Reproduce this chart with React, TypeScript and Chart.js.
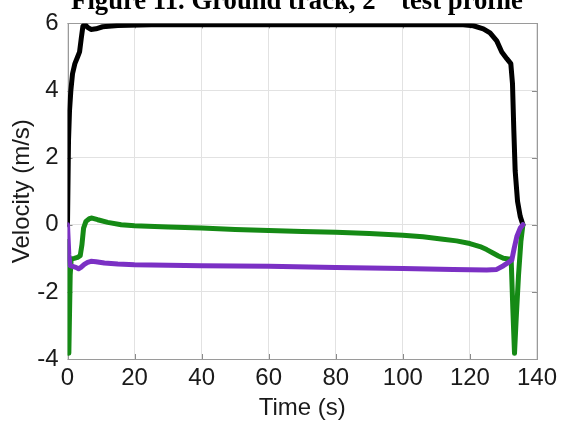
import React, { useEffect, useRef } from "react";
import { Chart, registerables } from "chart.js";

Chart.register(...registerables);

const titleMain = "Figure 11. Ground track, 2";
const titleSup = "nd";
const titleRest = " test profile";
const xLabel = "Time (s)";
const yLabel = "Velocity (m/s)";

const xTickStep = 20;
const yTickStep = 2;
const xRange = [0, 140];
const yRange = [-4, 6];

// Black series (speed)
const blackT = [0, 0.3, 0.6, 1.0, 1.5, 2.2, 3.0, 3.6, 4.1, 4.6, 5.2, 6.0, 7.0, 8.5, 10.5, 15, 25, 40, 60, 80, 100, 118, 121, 124, 126, 128, 129.5, 131, 132.2, 132.7, 133.1, 133.5, 134.2, 135, 135.8];
const blackV = [0, 2.5, 3.4, 4.0, 4.5, 4.8, 5.0, 5.15, 5.55, 5.92, 5.97, 5.88, 5.82, 5.84, 5.9, 5.94, 5.96, 5.96, 5.96, 5.96, 5.96, 5.96, 5.93, 5.84, 5.72, 5.48, 5.15, 4.95, 4.8, 4.2, 2.8, 1.6, 0.7, 0.25, 0];

// Green series
const greenT = [0, 0.4, 0.8, 1.1, 2, 3, 3.8, 4.3, 4.8, 5.5, 6.5, 7.3, 9, 12, 16, 20, 30, 40, 50, 60, 70, 80, 90, 100, 106, 112, 116, 120, 123, 125, 127, 128.5, 130, 131.5, 132.3, 132.8, 133.3, 133.8, 134.5, 135.2, 135.8];
const greenV = [-0.5, -3.83, -1.5, -1.02, -1.0, -0.97, -0.92, -0.6, -0.1, 0.1, 0.18, 0.2, 0.15, 0.07, 0.0, -0.03, -0.07, -0.1, -0.14, -0.17, -0.2, -0.22, -0.26, -0.31, -0.36, -0.43, -0.48, -0.56, -0.65, -0.74, -0.85, -0.93, -1.0, -1.02, -1.02, -2.5, -3.83, -2.8, -1.5, -0.5, 0];

// Purple series
const purpleT = [0, 0.4, 0.8, 1.5, 2.5, 3.3, 4.0, 5, 6, 7, 8.5, 11, 15, 20, 40, 60, 80, 100, 115, 125, 128, 130, 131.5, 132.5, 133.2, 134, 135, 135.8];
const purpleV = [0, -0.9, -1.22, -1.24, -1.27, -1.31, -1.27, -1.18, -1.12, -1.09, -1.1, -1.14, -1.17, -1.19, -1.22, -1.24, -1.27, -1.3, -1.33, -1.35, -1.33, -1.22, -1.12, -1.05, -0.7, -0.35, -0.1, 0];

const toPoints = (t: number[], v: number[]) => t.map((x, i) => ({ x, y: v[i] }));

const FONT = "'Liberation Sans', Arial, Helvetica, sans-serif";

const framePlugin = {
  id: "matlabFrame",
  beforeDatasetsDraw(chart: any) {
    const { ctx, chartArea: a, scales } = chart;
    ctx.save();
    ctx.strokeStyle = "#8a8a8a";
    ctx.lineWidth = 1;
    ctx.beginPath();
    const xs = scales.x;
    const ys = scales.y;
    const len = 5;
    xs.ticks.forEach((t: any) => {
      const px = Math.round(xs.getPixelForValue(t.value)) + 0.5;
      ctx.moveTo(px, a.bottom);
      ctx.lineTo(px, a.bottom - len);
      ctx.moveTo(px, a.top);
      ctx.lineTo(px, a.top + len);
    });
    ys.ticks.forEach((t: any) => {
      const py = Math.round(ys.getPixelForValue(t.value)) + 0.5;
      ctx.moveTo(a.left, py);
      ctx.lineTo(a.left + len, py);
      ctx.moveTo(a.right, py);
      ctx.lineTo(a.right - len, py);
    });
    ctx.stroke();
    ctx.strokeStyle = "#9a9a9a";
    ctx.strokeRect(Math.round(a.left) + 0.5, Math.round(a.top) + 0.5, Math.round(a.right - a.left), Math.round(a.bottom - a.top));
    ctx.restore();
  },
  afterDraw(chart: any) {
    const { ctx } = chart;
    ctx.save();
    ctx.fillStyle = "#000";
    ctx.textBaseline = "alphabetic";
    const mainFont = "bold 26.7px 'Liberation Serif', 'Times New Roman', serif";
    const supFont = "bold 17px 'Liberation Serif', 'Times New Roman', serif";
    ctx.font = mainFont;
    const w1 = ctx.measureText(titleMain).width;
    const w3 = ctx.measureText(titleRest).width;
    ctx.font = supFont;
    const w2 = ctx.measureText(titleSup).width;
    const total = w1 + w2 + w3;
    const cx = 297;
    let x = cx - total / 2;
    const baseY = 9;
    ctx.font = mainFont;
    ctx.fillText(titleMain, x, baseY);
    x += w1;
    ctx.font = supFont;
    ctx.fillText(titleSup, x, baseY - 12);
    x += w2;
    ctx.font = mainFont;
    ctx.fillText(titleRest, x, baseY);
    ctx.restore();
  },
};

export default function App() {
  const ref = useRef<HTMLCanvasElement | null>(null);
  useEffect(() => {
    if (!ref.current) return;
    const chart = new Chart(ref.current, {
      type: "scatter",
      data: {
        datasets: [
          {
            label: "purple",
            data: toPoints(purpleT, purpleV),
            borderColor: "#7b30c4",
            backgroundColor: "#7b30c4",
            showLine: true,
            pointRadius: 0,
            borderWidth: 5,
            borderJoinStyle: "round",
            borderCapStyle: "round",
          },
          {
            label: "green",
            data: toPoints(greenT, greenV),
            borderColor: "#158a15",
            backgroundColor: "#158a15",
            showLine: true,
            pointRadius: 0,
            borderWidth: 5,
            borderJoinStyle: "round",
            borderCapStyle: "round",
          },
          {
            label: "black",
            data: toPoints(blackT, blackV),
            borderColor: "#000000",
            backgroundColor: "#000000",
            showLine: true,
            pointRadius: 0,
            borderWidth: 5,
            borderJoinStyle: "round",
            borderCapStyle: "round",
          },
        ],
      },
      options: {
        animation: false,
        responsive: false,
        devicePixelRatio: 1,
        layout: { padding: { top: 17, right: 22.5, left: 0, bottom: 0 } },
        plugins: { legend: { display: false }, tooltip: { enabled: false }, title: { display: false } },
        scales: {
          x: {
            type: "linear",
            min: xRange[0],
            max: xRange[1],
            afterFit: (s: any) => { s.height = 66; },
            ticks: { stepSize: xTickStep, color: "#1a1a1a", font: { size: 24, family: FONT }, padding: 5, maxRotation: 0 },
            grid: { color: "#e2e2e2", drawTicks: false, lineWidth: 1 },
            border: { display: false },
            title: { display: true, text: xLabel, color: "#1a1a1a", font: { size: 24, family: FONT, lineHeight: 1 }, padding: { top: 0, bottom: 5 } },
          },
          y: {
            type: "linear",
            min: yRange[0],
            max: yRange[1],
            afterFit: (s: any) => { s.width = 67.5; },
            ticks: { stepSize: yTickStep, color: "#1a1a1a", font: { size: 24, family: FONT }, padding: 9 },
            grid: { color: "#e2e2e2", drawTicks: false, lineWidth: 1 },
            border: { display: false },
            title: { display: true, text: yLabel, color: "#1a1a1a", font: { size: 24, family: FONT, lineHeight: 1 }, padding: { top: 10, bottom: 0 } },
          },
        },
      },
      plugins: [framePlugin],
    } as any);
    return () => chart.destroy();
  }, []);
  return (
    <div style={{ position: "fixed", left: 0, top: 0, width: 562, height: 425, background: "#fff" }}>
      <canvas ref={ref} width={562} height={425} style={{ display: "block" }} />
    </div>
  );
}
